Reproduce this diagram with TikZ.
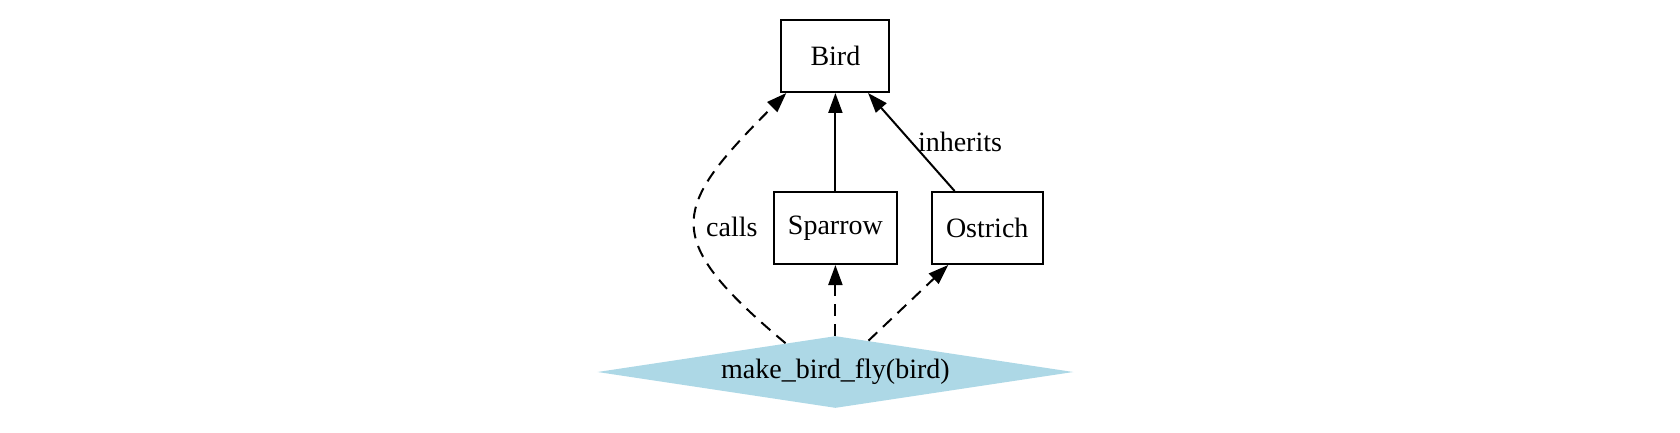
\documentclass[tikz,border=0pt]{standalone}
\usepackage{fontspec}
\setmainfont{Liberation Serif}
\usetikzlibrary{arrows.meta,shapes.geometric}
\definecolor{callblue}{HTML}{ADD8E6}

\begin{document}
\begin{tikzpicture}[x=1pt, y=1pt,
  cls/.style={draw=black, line width=1pt, minimum height=36pt, inner sep=0pt,
              font=\fontsize{14pt}{16pt}\selectfont},
  func/.style={shape=diamond, fill=callblue, aspect=6.6, minimum width=238pt,
               minimum height=36pt, inner sep=0pt, font=\fontsize{14pt}{16pt}\selectfont},
  arr/.style={-{Triangle[length=10pt,width=7pt]}, line width=1pt},
  callarr/.style={arr, dash pattern=on 6pt off 4pt},
  lbl/.style={font=\fontsize{14pt}{16pt}\selectfont, inner sep=0pt}
]
\useasboundingbox (0,0) rectangle (840,-216.5);
\node[cls, minimum width=54pt] (bird) at (417.7,-28) {Bird};
\node[cls, minimum width=61.5pt] (sparrow) at (417.7,-114) {Sparrow};
\node[cls, minimum width=55.5pt] (ostrich) at (493.6,-114) {Ostrich};
\node[func] (fly) at (417.7,-186) {make\_bird\_fly(bird)};
\draw[arr] (sparrow)--(bird);
\draw[arr] (ostrich)--(bird);
\draw[callarr] (fly.150) .. controls +(140:82) and +(225:82) .. (bird.217);
\draw[callarr] (fly)--(sparrow);
\draw[callarr] (fly)--(ostrich);
\node[lbl] (callslbl) at (365.9,-113.4) {calls};
\node[lbl] (inhlbl) at (480,-70.8) {inherits};
\end{tikzpicture}
\end{document}
